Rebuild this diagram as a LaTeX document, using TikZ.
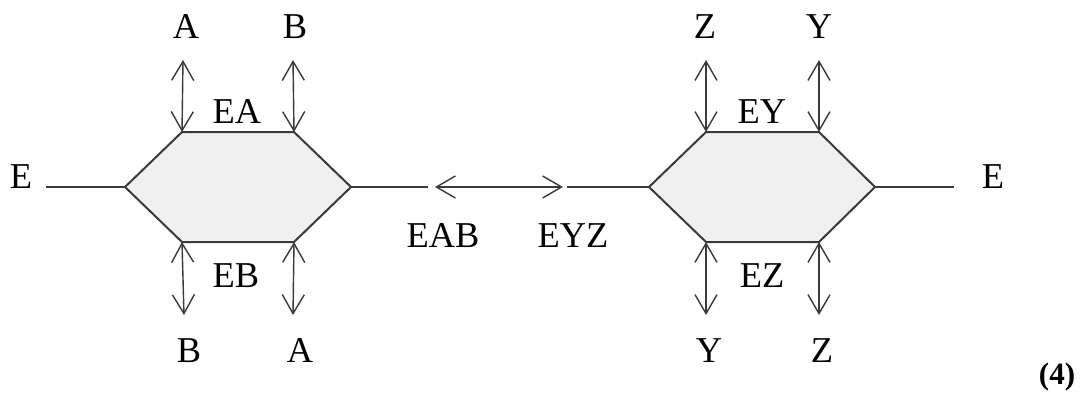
\documentclass[tikz,border=0pt]{standalone}
\usepackage{fontspec}
\setmainfont{Liberation Serif}
\usetikzlibrary{arrows.meta}
\definecolor{ln}{HTML}{3A3A3A}
\definecolor{hexfill}{HTML}{F0F0F0}
\tikzset{
  lbl/.style={anchor=base,inner sep=0pt,font=\fontsize{18.2}{21}\selectfont},
  hexa/.style={draw=ln,fill=hexfill,line width=1pt,line join=miter},
  wire/.style={draw=ln,line width=0.9pt},
  dbl/.style={draw=ln,line width=0.7pt,{Straight Barb[length=9.5pt,width=11pt]}-{Straight Barb[length=9.5pt,width=11pt]}}
}
\begin{document}
\begin{tikzpicture}[x=0.5pt,y=-0.5pt]
\useasboundingbox (0,0) rectangle (1081,392);
% left hexagon vertices
\coordinate (L1) at (125,187);
\coordinate (L2) at (182,132);
\coordinate (L3) at (294,132);
\coordinate (L4) at (351,187);
\coordinate (L5) at (294,242);
\coordinate (L6) at (182,242);
\path[hexa] (L1) -- (L2) -- (L3) -- (L4) -- (L5) -- (L6) -- cycle;
% right hexagon vertices
\coordinate (R1) at (649,187);
\coordinate (R2) at (706,132);
\coordinate (R3) at (819,132);
\coordinate (R4) at (875,187);
\coordinate (R5) at (819,242);
\coordinate (R6) at (706,242);
\path[hexa] (R1) -- (R2) -- (R3) -- (R4) -- (R5) -- (R6) -- cycle;
% wire ends
\coordinate (wl) at (46,187);
\coordinate (wm1) at (428,187);
\coordinate (wm2) at (567,187);
\coordinate (wr) at (954,187);
\coordinate (am1) at (435,187);
\coordinate (am2) at (563,187);
\path[wire] (wl) -- (L1);
\path[wire] (L4) -- (wm1);
\path[wire] (wm2) -- (R1);
\path[wire] (R4) -- (wr);
\path[dbl] (am1) -- (am2);
% vertical arrow ends
\coordinate (ta1) at (183,60);
\coordinate (ta2) at (293,60);
\coordinate (ba1) at (184,315);
\coordinate (ba2) at (293,315);
\coordinate (tb1) at (706,60);
\coordinate (tb2) at (819,60);
\coordinate (bb1) at (706,315);
\coordinate (bb2) at (819,315);
\path[dbl] (ta1) -- (L2);
\path[dbl] (ta2) -- (L3);
\path[dbl] (L6) -- (ba1);
\path[dbl] (L5) -- (ba2);
\path[dbl] (tb1) -- (R2);
\path[dbl] (tb2) -- (R3);
\path[dbl] (R6) -- (bb1);
\path[dbl] (R5) -- (bb2);
% labels
\node[lbl] (eL) at (21,188) {E};
\node[lbl] (tA) at (186,38) {A};
\node[lbl] (tB) at (295,38) {B};
\node[lbl] (eA) at (237,123) {EA};
\node[lbl] (eB) at (236,287) {EB};
\node[lbl] (bB) at (189,362) {B};
\node[lbl] (bA) at (300,362) {A};
\node[lbl] (eAB) at (443,247) {EAB};
\node[lbl] (eYZ) at (573,247) {EYZ};
\node[lbl] (tZ) at (705,38) {Z};
\node[lbl] (tY) at (819,38) {Y};
\node[lbl] (eY) at (762,123) {EY};
\node[lbl] (eZ) at (762,287) {EZ};
\node[lbl] (bY) at (709,362) {Y};
\node[lbl] (bZ) at (822,362) {Z};
\node[lbl] (eR) at (993,188) {E};
\node[lbl,font=\fontsize{15.5}{18}\selectfont\bfseries] (num) at (1057,384) {(4)};
\end{tikzpicture}
\end{document}
